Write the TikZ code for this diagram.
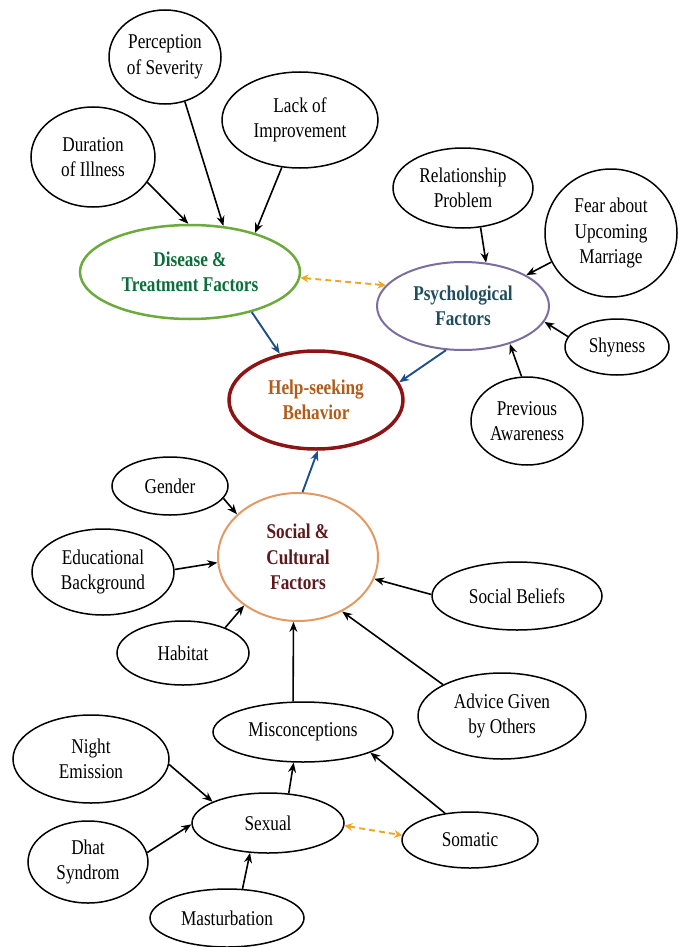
\documentclass[tikz,border=0pt]{standalone}
\usepackage{fontspec}
\setmainfont{Liberation Serif}[FakeStretch=0.82]
\usetikzlibrary{shapes.geometric,arrows.meta}
\definecolor{dgreen}{RGB}{108,170,60}
\definecolor{tgreen}{RGB}{10,110,58}
\definecolor{hred}{RGB}{140,20,20}
\definecolor{horange}{RGB}{176,92,26}
\definecolor{ppurple}{RGB}{123,110,158}
\definecolor{pteal}{RGB}{30,77,92}
\definecolor{sorange}{RGB}{227,154,98}
\definecolor{smaroon}{RGB}{92,26,30}
\definecolor{ablue}{RGB}{31,78,140}
\definecolor{dorange}{RGB}{240,165,40}
\begin{document}
\begin{tikzpicture}[x=1pt,y=-1pt,
  el/.style={ellipse,draw=black,line width=1.5pt,inner sep=0pt,align=center,
    font=\fontsize{21}{25.5}\selectfont},
  key/.style={ellipse,inner sep=0pt,align=center,
    font=\fontsize{21}{25.5}\selectfont\bfseries},
  arr/.style={-{Stealth[length=10pt,width=8pt]},line width=1.6pt,black},
  barr/.style={-{Stealth[length=10pt,width=8pt]},line width=1.9pt,ablue},
  darr/.style={{Stealth[length=8pt,width=8pt]}-{Stealth[length=8pt,width=8pt]},line width=1.9pt,dorange,dash pattern=on 6pt off 4pt}]
\useasboundingbox (0,0) rectangle (683,947);
% top cluster
\node[el,minimum width=124pt,minimum height=100pt] (dur) at (93,157) {Duration\\of Illness};
\node[el,minimum width=112pt,minimum height=94pt] (per) at (165,57) {Perception\\of Severity};
\node[el,minimum width=156pt,minimum height=96pt] (lack) at (300,120) {Lack of\\Improvement};
\node[key,draw=dgreen,line width=2.5pt,text=tgreen,minimum width=220pt,minimum height=94pt] (dis) at (190,272) {Disease \&\\Treatment Factors};
% psychological cluster
\node[el,minimum width=140pt,minimum height=80pt] (rel) at (463,188) {Relationship\\Problem};
\node[el,minimum width=132pt,minimum height=128pt] (fear) at (611,233) {Fear about\\Upcoming\\Marriage};
\node[key,draw=ppurple,line width=2pt,text=pteal,minimum width=172pt,minimum height=88pt] (psy) at (463,306) {Psychological\\Factors};
\node[el,minimum width=104pt,minimum height=56pt] (shy) at (617,347) {Shyness};
\node[el,minimum width=112pt,minimum height=88pt] (prev) at (527,421) {Previous\\Awareness};
% center
\node[key,draw=hred,line width=3.5pt,text=horange,minimum width=174pt,minimum height=98pt] (help) at (316,400) {Help-seeking\\Behavior};
% social cluster
\node[el,minimum width=116pt,minimum height=58pt] (gen) at (170,486) {Gender};
\node[key,draw=sorange,line width=2pt,text=smaroon,minimum width=160pt,minimum height=128pt] (soc) at (298,557) {Social \&\\Cultural\\Factors};
\node[el,minimum width=142pt,minimum height=86pt] (edu) at (103,572) {Educational\\Background};
\node[el,minimum width=132pt,minimum height=64pt] (hab) at (183,653) {Habitat};
\node[el,minimum width=170pt,minimum height=68pt] (sb) at (517,596) {Social Beliefs};
\node[el,minimum width=168pt,minimum height=86pt] (adv) at (502,716) {Advice Given\\by Others};
% bottom cluster
\node[el,minimum width=180pt,minimum height=60pt] (mis) at (303,732) {Misconceptions};
\node[el,minimum width=156pt,minimum height=88pt] (night) at (91,759) {Night\\Emission};
\node[el,minimum width=152pt,minimum height=60pt] (sex) at (268,823) {Sexual};
\node[el,minimum width=136pt,minimum height=56pt] (som) at (470,840) {Somatic};
\node[el,minimum width=120pt,minimum height=82pt] (dhat) at (88,862) {Dhat\\Syndrom};
\node[el,minimum width=154pt,minimum height=58pt] (mas) at (227,918) {Masturbation};
% connectors
\draw[arr] (dur.-25) -- (dis.92);
\draw[arr] (per.-66) -- (dis.54);
\draw[arr] (lack.-111) -- (dis.31);
\draw[arr] (rel.-66) -- (psy.62);
\draw[arr] (fear.-154) -- (psy.26);
\draw[arr] (shy.168) -- (psy.-11);
\draw[arr] (prev.97) -- (psy.-39);
\draw[darr] (dis.-3) -- (psy.165);
\draw[barr] (dis.-33) -- (help.128);
\draw[barr] (psy.-111) -- (help.12);
\draw[barr] (soc.86) -- (help.-88);
\draw[arr] (gen.-13) -- (soc.145);
\draw[arr] (edu.2) -- (soc.-176);
\draw[arr] (hab.31) -- (soc.-138);
\draw[arr] (sb.179) -- (soc.-16);
\draw[arr] (adv.152) -- (soc.-51);
\draw[arr] (mis.108) -- (soc.-94);
\draw[arr] (night.-4) -- (sex.159);
\draw[arr] (dhat.9) -- (sex.-179);
\draw[arr] (mas.62) -- (sex.-121);
\draw[arr] (sex.55) -- (mis.-107);
\draw[arr] (som.133) -- (mis.-17);
\draw[darr] (sex.-2) -- (som.176);
\end{tikzpicture}
\end{document}
